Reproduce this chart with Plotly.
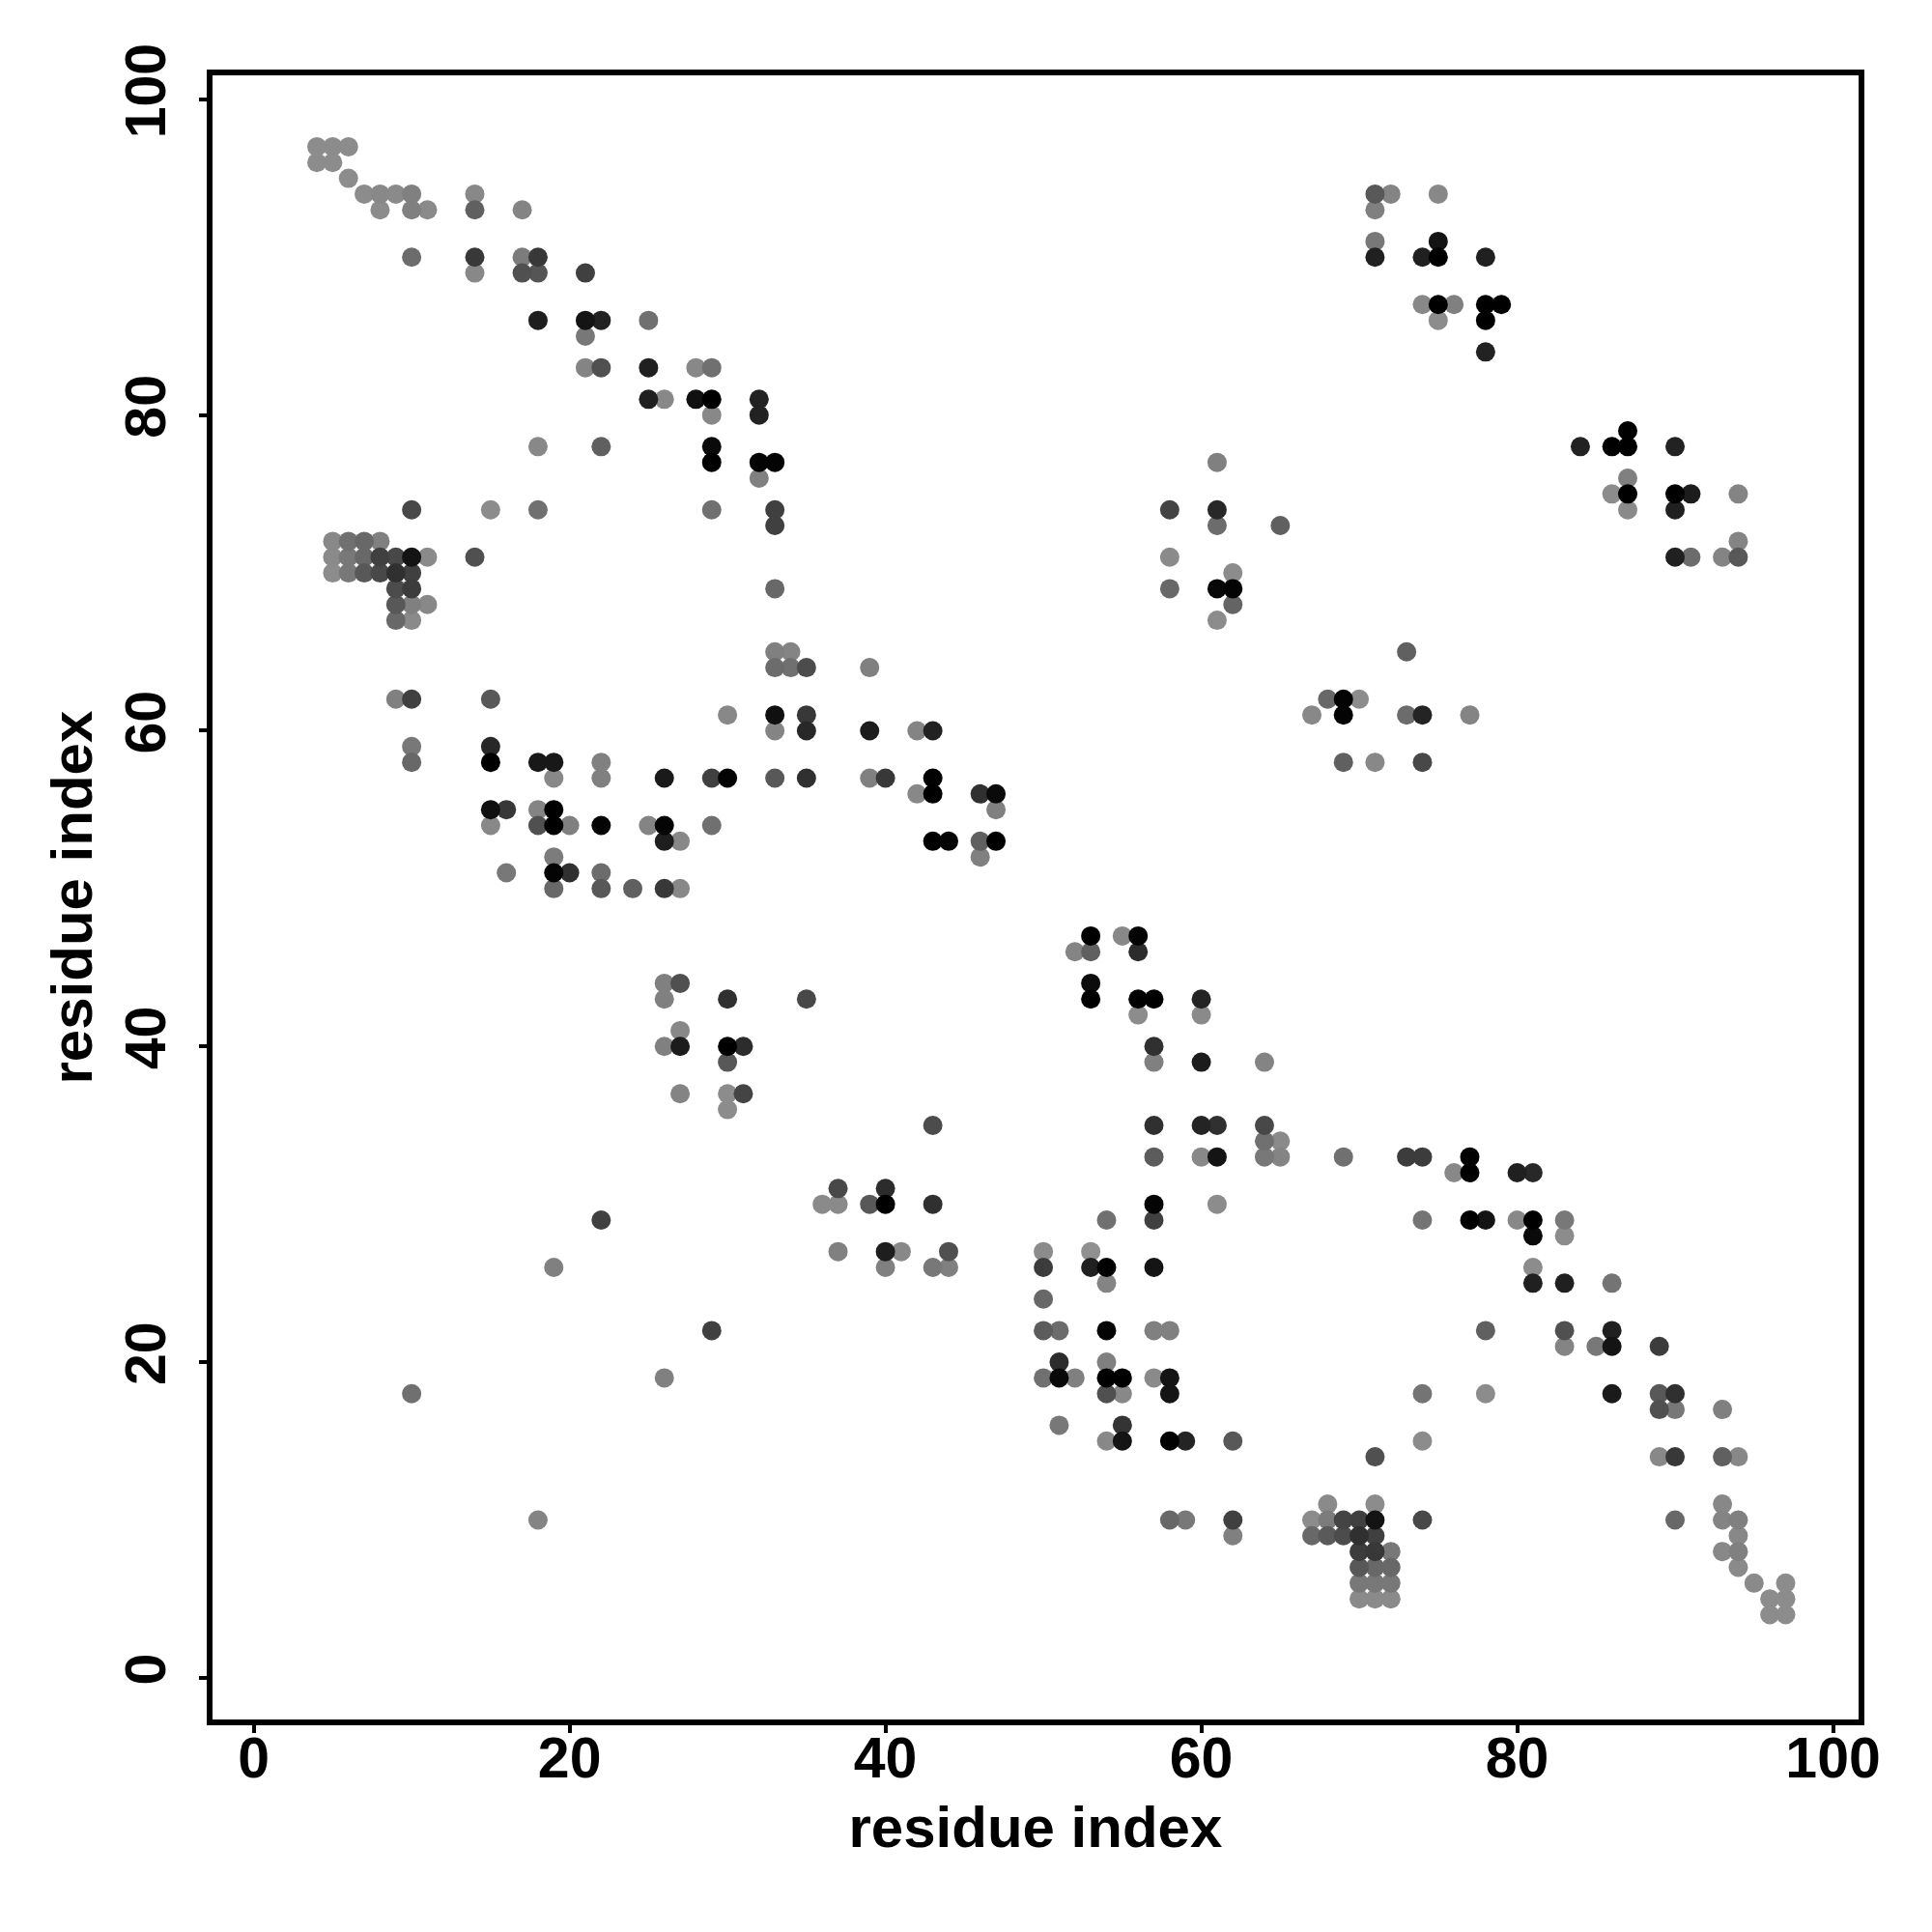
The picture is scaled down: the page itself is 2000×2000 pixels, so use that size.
import numpy as np
import plotly.graph_objects as go

# Each row: residue j on the y axis -> residue i on the x axis and a grey level per contact
rows = {
    97: ([4, 5, 6], [0x8c, 0x8c, 0x8c]),
    96: ([4, 5], [0x8c, 0x8c]),
    95: ([6], [0x8c]),
    94: ([7, 8, 9, 10, 14, 71, 72, 75], [0x8c, 0x88, 0x8a, 0x80, 0x88, 0x58, 0x84, 0x88]),
    93: ([8, 10, 11, 14, 17, 71], [0x8c, 0x80, 0x8a, 0x60, 0x84, 0x80]),
    91: ([71, 75], [0x78, 0x14]),
    90: ([10, 14, 17, 18, 71, 74, 75, 78], [0x6c, 0x38, 0x7c, 0x38, 0x20, 0x20, 0x00, 0x20]),
    89: ([14, 17, 18, 21], [0x88, 0x50, 0x55, 0x40]),
    87: ([74, 75, 76, 78, 79], [0x88, 0x00, 0x80, 0x00, 0x00]),
    86: ([18, 21, 22, 25, 75, 78], [0x1e, 0x14, 0x22, 0x70, 0x8c, 0x00]),
    85: ([21], [0x78]),
    84: ([78], [0x22]),
    83: ([21, 22, 25, 28, 29], [0x84, 0x50, 0x20, 0x88, 0x70]),
    81: ([25, 26, 28, 29, 32], [0x20, 0x88, 0x10, 0x00, 0x22]),
    80: ([29, 32], [0x88, 0x22]),
    79: ([87], [0x00]),
    78: ([18, 22, 29, 84, 86, 87, 90], [0x88, 0x60, 0x0a, 0x22, 0x00, 0x00, 0x22]),
    77: ([29, 32, 33, 61], [0x00, 0x04, 0x04, 0x80]),
    76: ([32, 87], [0x80, 0x80]),
    75: ([86, 87, 90, 91, 94], [0x8c, 0x00, 0x00, 0x1c, 0x84]),
    74: ([10, 15, 18, 29, 33, 58, 61, 87, 90], [0x48, 0x8c, 0x70, 0x70, 0x40, 0x44, 0x28, 0x8a, 0x20]),
    73: ([33, 61, 65], [0x40, 0x6c, 0x60]),
    72: ([5, 6, 7, 8, 94], [0x88, 0x70, 0x68, 0x80, 0x84]),
    71: ([5, 6, 7, 8, 9, 10, 11, 14, 58, 90, 91, 93, 94],
         [0x8a, 0x78, 0x68, 0x40, 0x48, 0x14, 0x8a, 0x50, 0x8a, 0x20, 0x6c, 0x84, 0x58]),
    70: ([5, 6, 7, 8, 9, 10, 62], [0x8c, 0x78, 0x58, 0x48, 0x30, 0x40, 0x8c]),
    69: ([9, 10, 33, 58, 61, 62], [0x4c, 0x3c, 0x68, 0x68, 0x08, 0x04]),
    68: ([9, 10, 11, 62], [0x58, 0x80, 0x88, 0x64]),
    67: ([9, 10, 61], [0x68, 0x8a, 0x8c]),
    65: ([33, 34, 73], [0x80, 0x84, 0x60]),
    64: ([33, 34, 35, 39], [0x6c, 0x70, 0x4c, 0x80]),
    62: ([9, 10, 15, 68, 69, 70], [0x80, 0x40, 0x58, 0x68, 0x04, 0x8c]),
    61: ([30, 33, 35, 67, 69, 73, 74, 77], [0x88, 0x10, 0x38, 0x88, 0x04, 0x6c, 0x24, 0x84]),
    60: ([33, 35, 39, 42, 43], [0x84, 0x28, 0x1c, 0x84, 0x22]),
    59: ([10, 15], [0x78, 0x28]),
    58: ([10, 15, 18, 19, 22, 69, 71, 74], [0x68, 0x00, 0x18, 0x18, 0x80, 0x60, 0x88, 0x48]),
    57: ([19, 22, 26, 29, 30, 33, 35, 39, 40, 43],
         [0x88, 0x80, 0x1a, 0x40, 0x04, 0x58, 0x30, 0x80, 0x38, 0x02]),
    56: ([42, 43, 46, 47], [0x88, 0x00, 0x30, 0x0a]),
    55: ([15, 16, 18, 19, 47], [0x10, 0x38, 0x84, 0x00, 0x80]),
    54: ([15, 18, 19, 20, 22, 25, 26, 29], [0x88, 0x50, 0x00, 0x80, 0x04, 0x84, 0x04, 0x70]),
    53: ([26, 27, 43, 44, 46, 47], [0x1e, 0x88, 0x00, 0x04, 0x60, 0x00]),
    52: ([19, 46], [0x7c, 0x80]),
    51: ([16, 19, 20, 22], [0x78, 0x04, 0x30, 0x6c]),
    50: ([19, 22, 24, 26, 27], [0x68, 0x58, 0x60, 0x38, 0x88]),
    47: ([53, 55, 56], [0x00, 0x88, 0x04]),
    46: ([52, 53, 56], [0x84, 0x60, 0x2c]),
    44: ([26, 27, 53], [0x80, 0x50, 0x0c]),
    43: ([26, 30, 35, 53, 56, 57, 60], [0x80, 0x30, 0x48, 0x00, 0x00, 0x00, 0x24]),
    42: ([56, 60], [0x8c, 0x8a]),
    41: ([27], [0x88]),
    40: ([26, 27, 30, 31, 57], [0x80, 0x1c, 0x00, 0x2c, 0x30]),
    39: ([30, 57, 60, 64], [0x58, 0x80, 0x1c, 0x84]),
    37: ([27, 30, 31], [0x84, 0x8c, 0x44]),
    36: ([30], [0x8c]),
    35: ([43, 57, 60, 61, 64], [0x4c, 0x30, 0x24, 0x30, 0x48]),
    34: ([64, 65], [0x70, 0x8a]),
    33: ([57, 60, 61, 64, 65, 69, 73, 74, 77],
         [0x5c, 0x88, 0x14, 0x78, 0x84, 0x70, 0x3c, 0x3c, 0x02]),
    32: ([76, 77, 80, 81], [0x88, 0x00, 0x20, 0x28]),
    31: ([37, 40], [0x48, 0x2c]),
    30: ([36, 37, 39, 40, 43, 57, 61], [0x8a, 0x8a, 0x58, 0x00, 0x30, 0x04, 0x8c]),
    29: ([22, 54, 57, 74, 77, 78, 80, 81, 83],
         [0x40, 0x70, 0x40, 0x74, 0x00, 0x14, 0x88, 0x00, 0x78]),
    28: ([81, 83], [0x0a, 0x8c]),
    27: ([37, 40, 41, 44, 50, 53], [0x80, 0x1e, 0x88, 0x50, 0x8c, 0x90]),
    26: ([19, 40, 43, 44, 50, 53, 54, 57, 81],
         [0x80, 0x80, 0x78, 0x80, 0x3c, 0x20, 0x00, 0x14, 0x8c]),
    25: ([54, 81, 83, 86], [0x84, 0x20, 0x20, 0x74]),
    24: ([50], [0x68]),
    22: ([29, 50, 51, 54, 57, 58, 78, 83, 86],
         [0x40, 0x5c, 0x6c, 0x04, 0x80, 0x80, 0x60, 0x50, 0x20]),
    21: ([83, 85, 86, 89], [0x84, 0x78, 0x14, 0x3c]),
    20: ([51, 54], [0x2c, 0x80]),
    19: ([26, 50, 51, 52, 54, 55, 57, 58], [0x80, 0x70, 0x08, 0x80, 0x00, 0x00, 0x8a, 0x14]),
    18: ([10, 54, 55, 58, 74, 78, 86, 89, 90],
         [0x70, 0x50, 0x88, 0x14, 0x74, 0x8c, 0x1a, 0x58, 0x30]),
    17: ([89, 90, 93], [0x50, 0x78, 0x80]),
    16: ([51, 55], [0x78, 0x34]),
    15: ([54, 55, 58, 59, 62, 74], [0x88, 0x14, 0x02, 0x24, 0x58, 0x8c]),
    14: ([71, 89, 90, 93, 94], [0x50, 0x88, 0x38, 0x60, 0x88]),
    11: ([68, 71, 93], [0x8a, 0x8c, 0x88]),
    10: ([18, 58, 59, 62, 67, 68, 69, 70, 71, 74, 90, 93, 94],
         [0x84, 0x68, 0x78, 0x40, 0x8c, 0x7c, 0x44, 0x40, 0x14, 0x48, 0x68, 0x84, 0x80]),
    9: ([62, 67, 68, 69, 70, 71, 94], [0x80, 0x68, 0x5a, 0x4c, 0x30, 0x40, 0x88]),
    8: ([70, 71, 72, 93, 94], [0x3c, 0x38, 0x78, 0x88, 0x80]),
    7: ([70, 71, 72, 94], [0x58, 0x68, 0x68, 0x8a]),
    6: ([70, 71, 72, 95, 97], [0x78, 0x78, 0x78, 0x8a, 0x8c]),
    5: ([70, 71, 72, 96, 97], [0x8a, 0x8a, 0x8a, 0x8c, 0x8c]),
    4: ([96, 97], [0x8c, 0x8c]),
}
tick_values = [0, 20, 40, 60, 80, 100]
axis_title = "residue index"

xs, ys, gs = [], [], []
for j, (ii, gg) in rows.items():
    for i, g in zip(ii, gg):
        xs.append(i); ys.append(j); gs.append(g)
order = np.argsort(-np.array(gs), kind="stable")
xs = [xs[k] for k in order]
ys = [ys[k] for k in order]
colors = [f"rgb({gs[k]},{gs[k]},{gs[k]})" for k in order]

fig = go.Figure(go.Scatter(x=xs, y=ys, mode="markers",
                           marker=dict(size=20, color=colors, line=dict(width=0)),
                           showlegend=False))
font = "Liberation Sans"
def axis(standoff, label_standoff):
    return dict(tickmode="array", tickvals=tick_values, ticks="outside", ticklen=8, tickwidth=4,
                tickcolor="black", showgrid=False, zeroline=False, showline=True, linecolor="black",
                linewidth=6, mirror=True, ticklabelstandoff=label_standoff,
                tickfont=dict(family=font, size=59, color="black", weight="bold"),
                title=dict(text=axis_title, standoff=standoff,
                           font=dict(family=font, size=60, color="black", weight="bold")))
fig.update_xaxes(range=[-2.63, 101.63], domain=[214/2000, 1937.5/2000], **axis(20, -25))
fig.update_yaxes(range=[-2.63, 101.5], domain=[1-1768/2000, 1-38/2000], tickangle=-90, **axis(5, 11))
fig.update_layout(width=2000, height=2000, margin=dict(l=0, r=0, t=0, b=0),
                  paper_bgcolor="white", plot_bgcolor="white")
fig.write_html("out.html")
